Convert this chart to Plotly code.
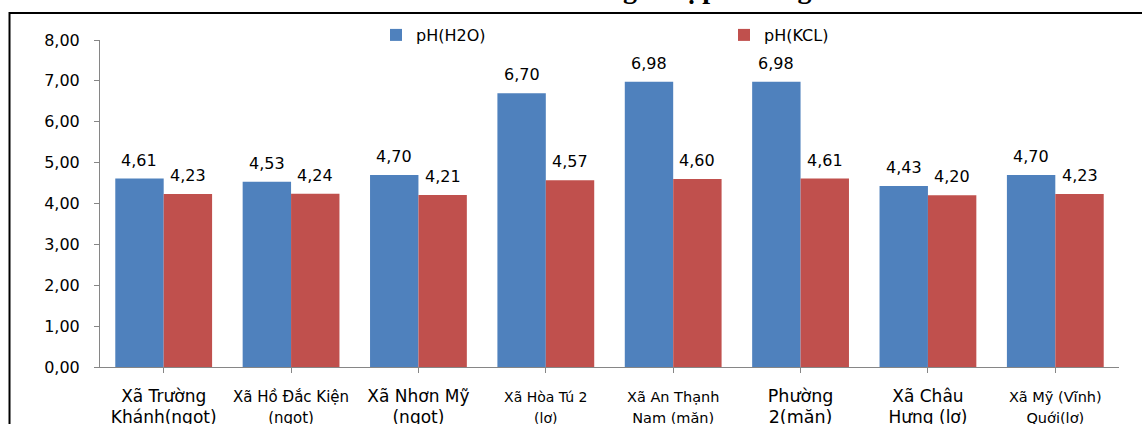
import plotly.graph_objects as go

categories = [
    "Xã Trường<br>Khánh(ngọt)",
    "Xã Hồ Đắc Kiện<br>(ngọt)",
    "Xã Nhơn Mỹ<br>(ngọt)",
    "Xã Hòa Tú 2<br>(lợ)",
    "Xã An Thạnh<br>Nam (mặn)",
    "Phường<br>2(mặn)",
    "Xã Châu<br>Hưng (lợ)",
    "Xã Mỹ (Vĩnh)<br>Quới(lợ)",
]
label_sizes = [17, 15, 17, 14, 14.5, 17.5, 17, 14.5]
ph_h2o = [4.61, 4.53, 4.70, 6.70, 6.98, 6.98, 4.43, 4.70]
ph_kcl = [4.23, 4.24, 4.21, 4.57, 4.60, 4.61, 4.20, 4.23]
series_names = ["pH(H2O)", "pH(KCL)"]
title_text = "Biểu đồ giá trị pH trong đất"

FONT = "DejaVu Sans"
BARGAP = 0.24
ticktext = [f'<span style="font-size:{s}px">{c}</span>' for c, s in zip(categories, label_sizes)]
xs = list(range(len(categories)))

fig = go.Figure()
fig.add_trace(go.Bar(
    x=xs, y=ph_h2o, name=series_names[0], marker=dict(color="#4F81BD", line=dict(width=0)),
))
fig.add_trace(go.Bar(
    x=xs, y=ph_kcl, name=series_names[1], marker=dict(color="#C0504D", line=dict(width=0)),
))

# data labels placed above each bar, at the bar centres of the grouped layout
half = (1 - BARGAP) / 4
annotations = []
for series, off in ((ph_h2o, -half), (ph_kcl, half)):
    for xi, v in zip(xs, series):
        annotations.append(dict(
            x=xi + off, y=v, xref="x", yref="y", text=f"{v:.2f}".replace(".", ","),
            showarrow=False, xanchor="center", yanchor="bottom", yshift=7,
            font=dict(family=FONT, size=16, color="#000000"),
        ))
annotations.append(dict(
    text=f"<b>{title_text}</b>", xref="paper", yref="paper",
    x=(691 - 100) / 1019, y=1.104, xanchor="center", yanchor="bottom",
    showarrow=False, font=dict(family="Liberation Serif", size=28, color="#000000"),
))

fig.update_layout(
    width=1142, height=424,
    margin=dict(l=100, r=23, t=40, b=57, autoexpand=False),
    paper_bgcolor="white", plot_bgcolor="white",
    separators=",.",
    barmode="group", bargap=BARGAP, bargroupgap=0,
    font=dict(family=FONT, color="#000000"),
    showlegend=True,
    legend=dict(
        orientation="h", x=376 / 1142, xanchor="left", xref="container",
        y=1 - 35 / 424, yanchor="middle", yref="container",
        entrywidth=303, entrywidthmode="pixels",
        font=dict(family=FONT, size=16, color="#000000"),
        bgcolor="rgba(0,0,0,0)", itemwidth=30,
    ),
    xaxis=dict(
        tickmode="array", tickvals=xs, ticktext=ticktext,
        range=[-0.5, len(categories) - 0.5],
        showline=True, linecolor="#868686", linewidth=1,
        ticks="outside", tickson="boundaries", ticklen=5, tickcolor="#868686",
        tickfont=dict(family=FONT, size=16, color="#000000"),
        showgrid=False, zeroline=False, ticklabelstandoff=10,
    ),
    yaxis=dict(
        range=[0, 8], dtick=1, tick0=0, tickformat=".2f",
        showline=True, linecolor="#868686", linewidth=1,
        ticks="outside", ticklen=5, tickcolor="#868686",
        tickfont=dict(family=FONT, size=16, color="#000000"),
        showgrid=False, zeroline=False, ticklabelstandoff=11,
    ),
    shapes=[dict(
        type="rect", xref="paper", yref="paper",
        x0=-0.0888, x1=1.2, y0=-0.5, y1=1.0826,
        line=dict(color="#000000", width=2), fillcolor="rgba(0,0,0,0)", layer="below",
    )],
    annotations=annotations,
)

fig.write_html(
    "out.html",
    config={"displayModeBar": False},
    post_script="document.body.style.margin='0';document.body.style.overflow='hidden';",
)
